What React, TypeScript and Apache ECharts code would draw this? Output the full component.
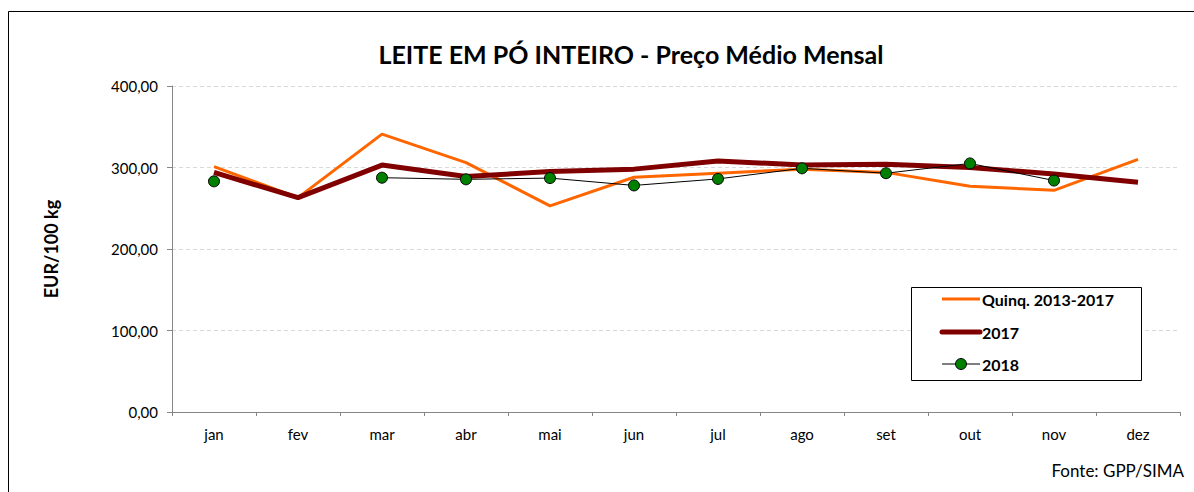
import React, { useEffect, useRef } from "react";
import * as echarts from "echarts";

const months = ["jan", "fev", "mar", "abr", "mai", "jun", "jul", "ago", "set", "out", "nov", "dez"];
const quinq = [301, 263, 341, 306, 253, 288, 293, 298, 294, 277, 272, 310];
const y2017 = [294, 263, 303, 289, 295, 298, 308, 303, 304, 300, 292, 282];
const y2018 = [283, null, 287.5, 285.5, 287, 278, 286, 299, 293, 305, 284, null];
const yTicks = [0, 100, 200, 300, 400];
const seriesNames = ["Quinq. 2013-2017", "2017", "2018"];

const FONT = "Lato";

export default function App() {
  const ref = useRef<HTMLDivElement>(null);
  useEffect(() => {
    const chart = echarts.init(ref.current!, null, { renderer: "svg" });
    const legendX = 942;
    const legendYs = [299, 332, 364];
    const legendText = (i: number) => ({
      type: "text",
      x: 982,
      y: legendYs[i],
      style: {
        text: seriesNames[i],
        fontFamily: FONT,
        fontWeight: "bold",
        fontSize: 16,
        fill: "#000",
        textVerticalAlign: "middle",
        verticalAlign: "middle",
      },
      z: 10,
    });
    chart.setOption({
      animation: false,
      backgroundColor: "#ffffff",
      textStyle: { fontFamily: FONT },
      title: {
        text: "LEITE EM PÓ INTEIRO - Preço Médio Mensal",
        left: 626,
        textAlign: "center",
        top: 36,
        textStyle: { fontFamily: FONT, fontWeight: "bold", fontSize: 25, color: "#000" },
      },
      grid: { left: 172, right: 14, top: 86, bottom: 80 },
      xAxis: {
        type: "category",
        data: months,
        boundaryGap: true,
        axisLine: { lineStyle: { color: "#868686", width: 1 } },
        axisTick: { show: true, length: 4, lineStyle: { color: "#868686" } },
        axisLabel: { color: "#000", fontSize: 15, margin: 14, fontFamily: FONT },
        splitLine: { show: false },
      },
      yAxis: {
        type: "value",
        min: yTicks[0],
        max: yTicks[yTicks.length - 1],
        interval: 100,
        name: "EUR/100 kg",
        nameLocation: "middle",
        nameRotate: 90,
        nameGap: 112,
        nameTextStyle: { fontFamily: FONT, fontWeight: "bold", fontSize: 18, color: "#000" },
        axisLine: { show: true, lineStyle: { color: "#868686", width: 1 } },
        axisTick: { show: true, length: 5, lineStyle: { color: "#868686" } },
        axisLabel: {
          color: "#000",
          fontSize: 15,
          margin: 14,
          fontFamily: FONT,
          formatter: (v: number) => v.toFixed(2).replace(".", ","),
        },
        splitLine: { show: true, lineStyle: { color: "#d9d9d9", type: [4, 3], width: 1 } },
      },
      graphic: [
        {
          type: "rect",
          shape: { x: 8.5, y: 11.5, width: 1200, height: 500 },
          style: { fill: "none", stroke: "#000", lineWidth: 1 },
          silent: true,
        },
        {
          type: "rect",
          shape: { x: 911.5, y: 287.5, width: 230, height: 93 },
          style: { fill: "#fff", stroke: "#000", lineWidth: 1 },
          z: 9,
          silent: true,
        },
        {
          type: "line",
          shape: { x1: legendX, y1: legendYs[0], x2: legendX + 38, y2: legendYs[0] },
          style: { stroke: "#ff6600", lineWidth: 3 },
          z: 10,
        },
        {
          type: "line",
          shape: { x1: legendX, y1: legendYs[1], x2: legendX + 38, y2: legendYs[1] },
          style: { stroke: "#800000", lineWidth: 5, lineCap: "round" },
          z: 10,
        },
        {
          type: "line",
          shape: { x1: legendX, y1: legendYs[2], x2: legendX + 38, y2: legendYs[2] },
          style: { stroke: "#000", lineWidth: 1 },
          z: 10,
        },
        {
          type: "circle",
          shape: { cx: legendX + 19, cy: legendYs[2], r: 5.5 },
          style: { fill: "#008000", stroke: "#000", lineWidth: 1 },
          z: 11,
        },
        legendText(0),
        legendText(1),
        legendText(2),
        {
          type: "text",
          right: 10,
          top: 462,
          style: { text: "Fonte: GPP/SIMA", fontFamily: FONT, fontSize: 17, fill: "#000" },
        },
      ],
      series: [
        {
          name: seriesNames[0],
          type: "line",
          data: quinq,
          symbol: "none",
          lineStyle: { color: "#ff6600", width: 3 },
          itemStyle: { color: "#ff6600" },
          z: 2,
        },
        {
          name: seriesNames[1],
          type: "line",
          data: y2017,
          symbol: "none",
          lineStyle: { color: "#800000", width: 5 },
          itemStyle: { color: "#800000" },
          z: 3,
        },
        {
          name: seriesNames[2],
          type: "line",
          data: y2018,
          connectNulls: false,
          symbol: "circle",
          symbolSize: 11,
          showSymbol: true,
          lineStyle: { color: "#000000", width: 1 },
          itemStyle: { color: "#008000", borderColor: "#000", borderWidth: 1 },
          z: 4,
        },
      ],
    });
    return () => chart.dispose();
  }, []);
  return (
    <div
      ref={ref}
      style={{ position: "fixed", left: 0, top: 0, width: 1194, height: 492 }}
    />
  );
}
